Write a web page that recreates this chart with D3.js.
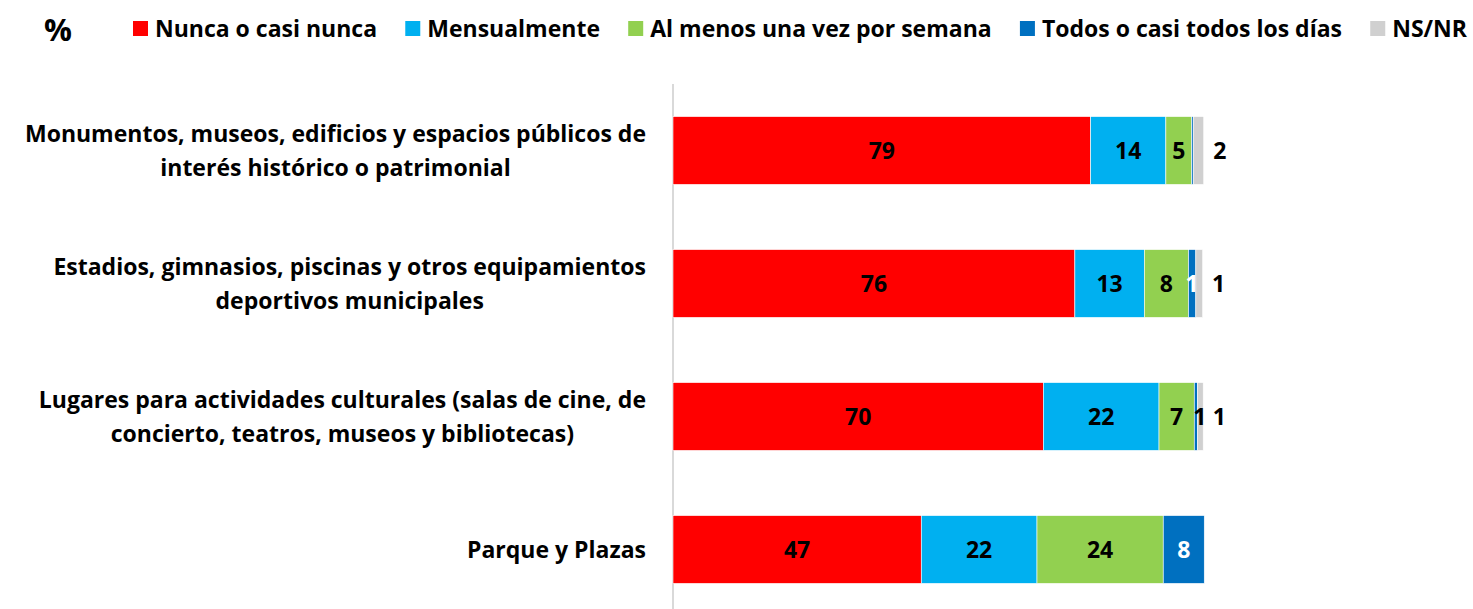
<!DOCTYPE html>
<html><head><meta charset="utf-8">
<script src="https://cdn.jsdelivr.net/npm/d3@7"></script>
<style>body{margin:0;background:#fff}svg{display:block}</style>
</head><body>
<svg id="c" width="1473" height="609"></svg>
<script>
const categories = [
  ["Monumentos, museos, edificios y espacios públicos de", "interés histórico o patrimonial"],
  ["Estadios, gimnasios, piscinas y otros equipamientos", "deportivos municipales"],
  ["Lugares para actividades culturales (salas de cine, de", "concierto, teatros, museos y bibliotecas)"],
  ["Parque y Plazas"]
];
const seriesNames = ["Nunca o casi nunca", "Mensualmente", "Al menos una vez por semana", "Todos o casi todos los días", "NS/NR"];
const seriesColors = ["#ff0000", "#00b0f0", "#92d050", "#0070c0", "#d0d0d0"];
const nunca   = [79.4, 76.4, 70.4, 47.2];
const mensual = [14.3, 13.2, 22.0, 22.0];
const semana  = [4.9, 8.4, 6.7, 24.0];
const diario  = [0.3, 1.4, 0.6, 7.8];
const nsnr    = [2.0, 1.3, 1.1, 0];
const series = [nunca, mensual, semana, diario, nsnr];

const svg = d3.select("#c");
const FONT = "'Open Sans', sans-serif";
const FS = 23;

const x = d3.scaleLinear().domain([0, 100]).range([673, 1199]);
const y = d3.scaleBand().domain(d3.range(categories.length)).range([84, 616]).paddingInner(0.49).paddingOuter(0.245);

// axis line
svg.append("line").attr("x1", x(0)).attr("x2", x(0)).attr("y1", 84).attr("y2", 609)
  .attr("stroke", "#d9d9d9").attr("stroke-width", 2);

// stacked data
const rows = categories.map((c, i) => {
  let acc = 0;
  return series.map((s, k) => { const d = {i, k, x0: acc, x1: acc + s[i], v: s[i]}; acc += s[i]; return d; });
});
const segs = rows.flat().filter(d => d.v > 0);

svg.append("g").selectAll("rect").data(segs).join("rect")
  .attr("x", d => x(d.x0)).attr("width", d => x(d.x1) - x(d.x0))
  .attr("y", d => y(d.i)).attr("height", y.bandwidth())
  .attr("fill", d => seriesColors[d.k])
  .attr("stroke", "#ffffff").attr("stroke-width", 0.6);

// labels
const fmt = d3.format(".0f");
const labs = segs.filter(d => d.v >= 0.5);
svg.append("g").selectAll("text").data(labs).join("text")
  .attr("x", d => d.k === 4 ? x(d.x1) + 16 : (x(d.x0) + x(d.x1)) / 2 + (d.k === 3 && x(d.x1) - x(d.x0) < 5 ? 4 : 0))
  .attr("y", d => y(d.i) + y.bandwidth() / 2)
  .attr("dy", "0.36em")
  .attr("text-anchor", "middle")
  .attr("font-family", FONT).attr("font-weight", "bold").attr("font-size", FS)
  .attr("fill", d => (d.k === 3 && x(d.x1) - x(d.x0) >= 5) ? "#ffffff" : "#000000")
  .text(d => fmt(d.v));

// category labels
const catG = svg.append("g");
categories.forEach((lines, i) => {
  const g = catG.append("g");
  const cy = y(i) + y.bandwidth() / 2;
  const ts = lines.map((t, j) => g.append("text")
    .attr("font-family", FONT).attr("font-weight", "bold").attr("font-size", FS)
    .attr("text-anchor", "middle")
    .attr("y", cy + (j - (lines.length - 1) / 2) * 34).attr("dy", "0.36em").text(t));
  const maxW = d3.max(ts, t => t.node().getComputedTextLength());
  ts.forEach(t => t.attr("x", 646 - maxW / 2));
});

// legend
svg.append("text").attr("x", 58).attr("y", 30).attr("dy", "0.36em").attr("text-anchor", "middle")
  .attr("font-family", FONT).attr("font-weight", "bold").attr("font-size", 31).text("%");
const items = seriesNames.map((n, k) => {
  const t = svg.append("text").attr("y", 29).attr("dy", "0.36em")
    .attr("font-family", FONT).attr("font-weight", "bold").attr("font-size", FS).text(n);
  return {t, w: t.node().getComputedTextLength(), k};
});
const legStart = 133, legEnd = 1467, sq = 15, sqGap = 7;
const gap = (legEnd - legStart - d3.sum(items, d => sq + sqGap + d.w)) / (items.length - 1);
let lx = legStart;
items.forEach(d => {
  svg.append("rect").attr("x", lx).attr("y", 21).attr("width", sq).attr("height", sq).attr("fill", seriesColors[d.k]);
  d.t.attr("x", lx + sq + sqGap);
  lx += sq + sqGap + d.w + gap;
});
</script>
</body></html>
